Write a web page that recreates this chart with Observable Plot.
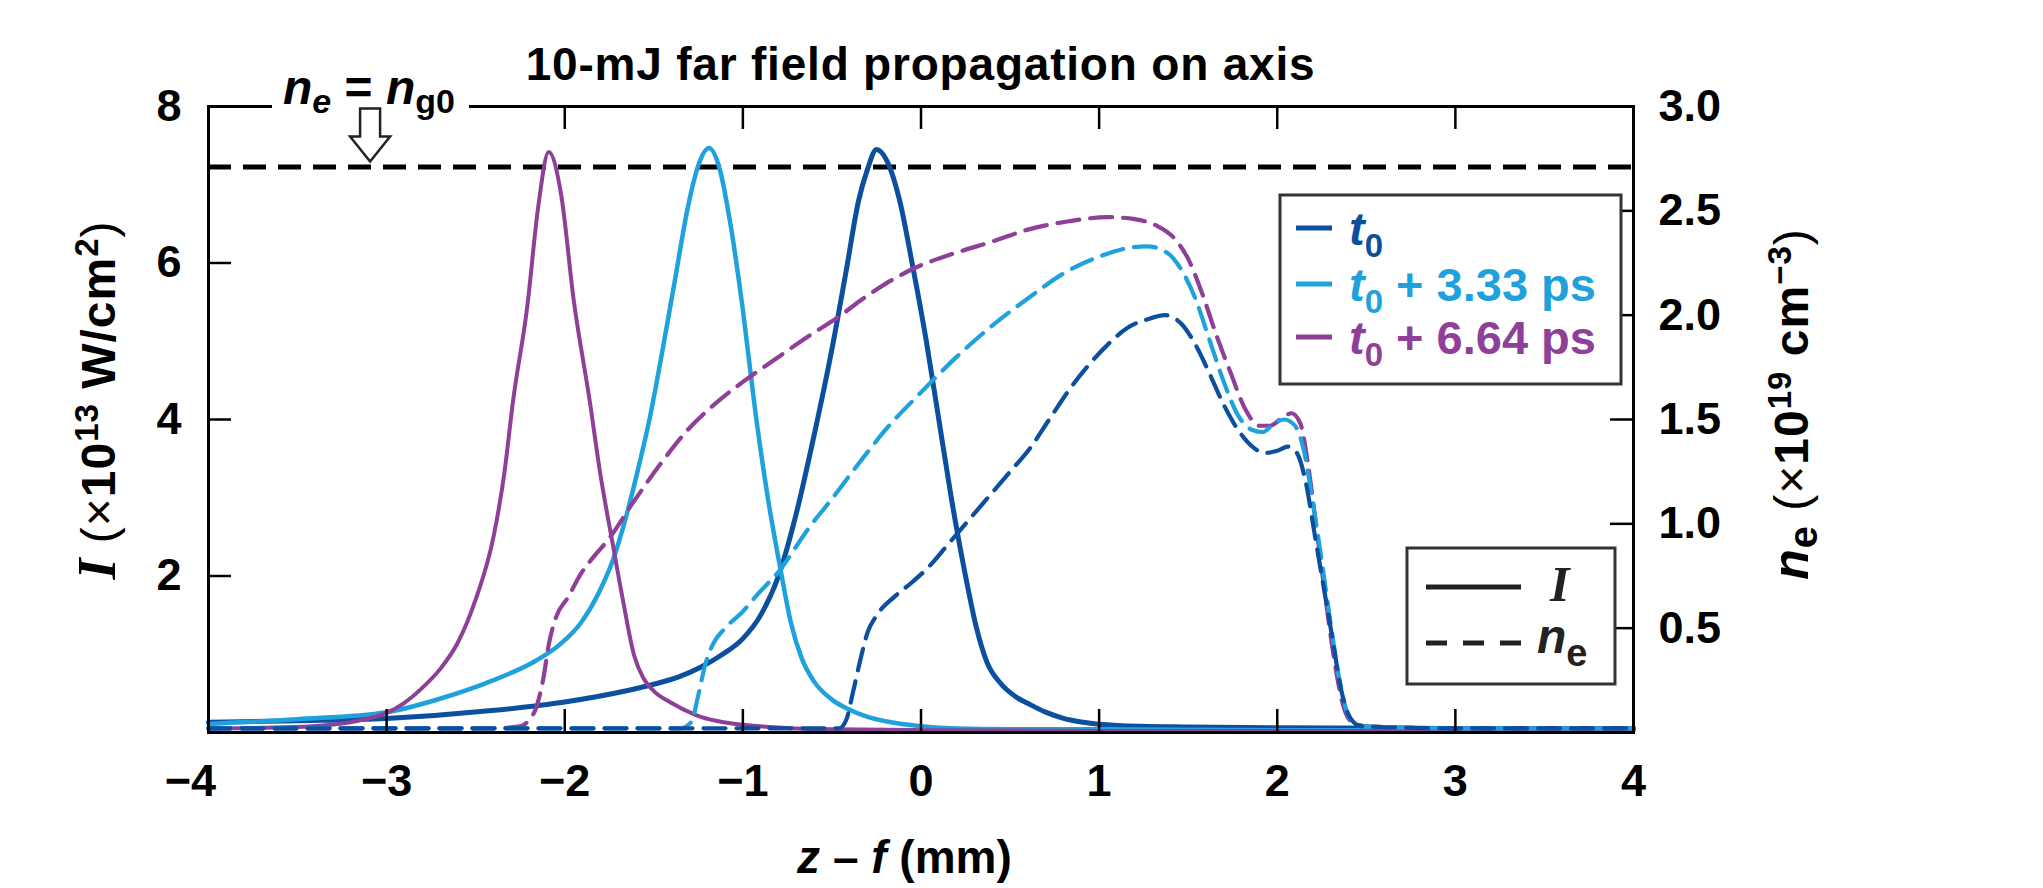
<!DOCTYPE html>
<html>
<head>
<meta charset="utf-8">
<script src="https://cdn.jsdelivr.net/npm/d3@7"></script>
<script src="https://cdn.jsdelivr.net/npm/@observablehq/plot@0.6"></script>
<style>
  html, body { margin: 0; padding: 0; background: #fff; }
  #chart { width: 2043px; height: 888px; }
</style>
</head>
<body>
<div id="chart"></div>
<script>
// ---------- data ----------
const title = "10-mJ far field propagation on axis";
const seriesNames = ["t0", "t0 + 3.33 ps", "t0 + 6.64 ps"];
const colors = ["#0b4f9e", "#1fa2dc", "#8e3f98"];

// x-axis ticks (z - f, mm), left ticks (I), right ticks (ne)
const xTicks = [-3, -2, -1, 0, 1, 2, 3, 4];
const xFirstTick = [-4];
const xInnerTicks = [-3, -2, -1, 0, 1, 2, 3];
const iTicks = [2, 4, 6, 8];
const iInnerTicks = [2, 4, 6];
const neTicks = [0.5, 1.0, 1.5, 2.0, 2.5, 3.0];
const neInnerTicks = [0.5, 1.0, 1.5, 2.0, 2.5];
const ng0 = 2.71; // n_e = n_g0 level (×10^19 cm^-3)
const arrowZ = -3.09;

// Intensity I (×10^13 W/cm²), solid lines
const zI_t0 = [-4, -3.5, -3.0, -2.41, -2.0, -1.66, -1.51, -1.36, -1.24, -1.12, -1.0, -0.9, -0.8, -0.7, -0.6, -0.5, -0.42, -0.35, -0.3, -0.25, -0.19, -0.12, -0.05, 0.03, 0.1, 0.17, 0.25, 0.31, 0.37, 0.45, 0.53, 0.61, 0.7, 0.8, 0.91, 1.1, 1.5, 2.0, 3.0, 4.0];
const I_t0  = [0.13, 0.15, 0.18, 0.28, 0.39, 0.53, 0.61, 0.71, 0.83, 0.99, 1.2, 1.5, 2.0, 2.8, 3.8, 4.9, 5.9, 6.8, 7.2, 7.45, 7.3, 6.8, 6.0, 5.0, 4.0, 3.0, 2.0, 1.35, 0.9, 0.62, 0.46, 0.36, 0.26, 0.18, 0.13, 0.09, 0.07, 0.06, 0.05, 0.05];

const zI_t333 = [-4, -3.5, -3.0, -2.66, -2.41, -2.16, -2.03, -1.91, -1.81, -1.73, -1.66, -1.59, -1.52, -1.45, -1.38, -1.31, -1.25, -1.19, -1.13, -1.07, -1.0, -0.93, -0.86, -0.79, -0.73, -0.67, -0.6, -0.5, -0.41, -0.3, -0.19, 0.0, 0.2, 0.5, 1.0, 2.0, 3.0, 4.0];
const I_t333  = [0.11, 0.17, 0.26, 0.46, 0.66, 0.92, 1.12, 1.4, 1.78, 2.2, 2.72, 3.35, 4.05, 4.9, 5.8, 6.7, 7.25, 7.47, 7.2, 6.5, 5.4, 4.1, 3.0, 2.1, 1.4, 0.95, 0.65, 0.42, 0.3, 0.2, 0.14, 0.08, 0.05, 0.04, 0.04, 0.03, 0.03, 0.03];

const zI_t664 = [-4, -3.7, -3.42, -3.16, -3.0, -2.9, -2.8, -2.7, -2.6, -2.5, -2.4, -2.34, -2.29, -2.21, -2.15, -2.09, -2.02, -1.95, -1.86, -1.8, -1.73, -1.67, -1.61, -1.56, -1.5, -1.41, -1.26, -1.0, -0.5, 0.0, 1.0, 2.0, 3.0, 4.0];
const I_t664  = [0.05, 0.06, 0.08, 0.15, 0.25, 0.38, 0.57, 0.81, 1.15, 1.7, 2.5, 3.3, 4.24, 5.45, 6.7, 7.42, 6.87, 5.53, 4.24, 3.3, 2.4, 1.65, 0.98, 0.7, 0.53, 0.39, 0.22, 0.1, 0.04, 0.03, 0.02, 0.02, 0.02, 0.02];

// Electron density ne (×10^19 cm^-3), dashed lines
const zN_t0 = [-4, -1.0, -0.46, -0.42, -0.38, -0.34, -0.3, -0.25, -0.15, -0.05, 0.05, 0.15, 0.25, 0.39, 0.5, 0.61, 0.72, 0.83, 0.94, 1.05, 1.16, 1.27, 1.37, 1.46, 1.54, 1.62, 1.7, 1.78, 1.86, 1.93, 2.0, 2.06, 2.11, 2.16, 2.21, 2.26, 2.31, 2.36, 2.41, 2.47, 3.0, 4.0];
const N_t0  = [0.02, 0.02, 0.02, 0.06, 0.2, 0.35, 0.48, 0.56, 0.65, 0.72, 0.8, 0.9, 1.0, 1.14, 1.25, 1.36, 1.5, 1.64, 1.76, 1.86, 1.94, 1.98, 2.0, 1.96, 1.86, 1.72, 1.57, 1.45, 1.37, 1.34, 1.35, 1.37, 1.34, 1.2, 0.95, 0.7, 0.45, 0.2, 0.07, 0.03, 0.02, 0.02];

const zN_t333 = [-4, -2.0, -1.35, -1.29, -1.25, -1.21, -1.17, -1.1, -1.0, -0.92, -0.8, -0.63, -0.5, -0.34, -0.2, 0.0, 0.2, 0.4, 0.6, 0.8, 1.0, 1.15, 1.27, 1.38, 1.46, 1.54, 1.62, 1.7, 1.78, 1.86, 1.92, 1.98, 2.04, 2.1, 2.15, 2.2, 2.25, 2.3, 2.35, 2.4, 2.46, 3.0, 4.0];
const N_t333  = [0.02, 0.02, 0.02, 0.05, 0.18, 0.33, 0.42, 0.5, 0.58, 0.66, 0.77, 0.98, 1.12, 1.3, 1.45, 1.63, 1.8, 1.95, 2.08, 2.2, 2.28, 2.32, 2.33, 2.3, 2.22, 2.08, 1.88, 1.68, 1.52, 1.45, 1.44, 1.48, 1.5, 1.47, 1.35, 1.1, 0.82, 0.52, 0.25, 0.08, 0.03, 0.02, 0.02];

const zN_t664 = [-4, -3.0, -2.4, -2.25, -2.2, -2.16, -2.12, -2.09, -2.05, -1.98, -1.91, -1.83, -1.76, -1.61, -1.46, -1.31, -1.15, -1.0, -0.8, -0.63, -0.45, -0.34, -0.2, -0.05, 0.2, 0.39, 0.6, 0.83, 1.05, 1.2, 1.32, 1.42, 1.5, 1.58, 1.66, 1.74, 1.82, 1.9, 1.96, 2.03, 2.08, 2.13, 2.17, 2.22, 2.27, 2.32, 2.37, 2.42, 2.5, 3.0, 4.0];
const N_t664  = [0.02, 0.02, 0.02, 0.03, 0.06, 0.12, 0.26, 0.42, 0.55, 0.65, 0.76, 0.85, 0.92, 1.11, 1.29, 1.45, 1.58, 1.68, 1.8, 1.9, 2.0, 2.07, 2.15, 2.22, 2.3, 2.35, 2.41, 2.45, 2.47, 2.46, 2.43, 2.37, 2.27, 2.1, 1.9, 1.72, 1.55, 1.47, 1.47, 1.51, 1.53, 1.48, 1.3, 0.98, 0.65, 0.35, 0.13, 0.05, 0.03, 0.02, 0.02];

// ---------- layout ----------
const W = 2043, H = 888;
const mL = 208, mR = 410, mT = 106, mB = 156;
const innerW = W - mL - mR;
const innerH = H - mT - mB;
const K = 8 / 3; // ne axis (0–3) mapped onto the I axis (0–8)
const TICK = 23;

const pts = (zs, vs, k = 1) => zs.map((z, i) => ({z, v: vs[i] * k}));
const solid = [pts(zI_t0, I_t0), pts(zI_t333, I_t333), pts(zI_t664, I_t664)];
const dashed = [pts(zN_t0, N_t0, K), pts(zN_t333, N_t333, K), pts(zN_t664, N_t664, K)];
const solidW = [5, 4.5, 4];

const fmtX = d => d < 0 ? "\u2212" + Math.abs(d) : String(d);

const plot = Plot.plot({
  width: W, height: H,
  marginLeft: mL, marginRight: mR, marginTop: mT, marginBottom: mB,
  x: {domain: [-4, 4]},
  y: {domain: [0, 8]},
  style: {fontFamily: "'Liberation Sans', Arial, Helvetica, sans-serif", fontSize: "45px", fontWeight: "bold", background: "white", overflow: "visible", color: "black"},
  marks: [
    Plot.ruleY([ng0 * K], {stroke: "black", strokeWidth: 5, strokeDasharray: "23,12"}),
    ...solid.map((d, i) => Plot.line(d, {x: "z", y: "v", stroke: colors[i], strokeWidth: solidW[i], curve: "monotone-x"})),
    ...[2, 1, 0].map(i => Plot.line(dashed[i], {x: "z", y: "v", stroke: colors[i], strokeWidth: 4.2, strokeDasharray: "22,11", curve: "monotone-x"})),
    Plot.tickX(xInnerTicks, {x: d => d, stroke: "black", strokeWidth: 2.5, insetTop: innerH - TICK}),
    Plot.tickX(xInnerTicks, {x: d => d, stroke: "black", strokeWidth: 2.5, insetBottom: innerH - TICK}),
    Plot.tickY(iInnerTicks, {y: d => d, stroke: "black", strokeWidth: 2.5, insetRight: innerW - TICK}),
    Plot.tickY(neInnerTicks, {y: d => d * K, stroke: "black", strokeWidth: 2.5, insetLeft: innerW - TICK}),
    Plot.frame({stroke: "black", strokeWidth: 3}),
    Plot.axisX(xTicks, {tickSize: 0, tickPadding: 32, tickFormat: fmtX, label: null}),
    Plot.axisX(xFirstTick, {tickSize: 0, tickPadding: 32, tickFormat: fmtX, label: null, dx: -18}),
    Plot.axisY(iTicks, {anchor: "left", tickSize: 0, tickPadding: 27, tickFormat: d => String(d), label: null}),
    Plot.axisY(neTicks.map(v => v * K), {anchor: "right", tickSize: 0, tickPadding: 25, tickFormat: d => (d / K).toFixed(1), label: null})
  ]
});

document.getElementById("chart").appendChild(plot);

// ---------- annotations ----------
const svg = d3.select(plot);
const sx = plot.scale("x"), sy = plot.scale("y");
const X = v => sx.apply(v), Y = v => sy.apply(v);
const g = svg.append("g").attr("class", "annotations")
  .attr("font-family", "'Liberation Sans', Arial, Helvetica, sans-serif")
  .attr("font-weight", "bold")
  .attr("text-anchor", "start")
  .attr("fill", "black");

function rich(parent, x, y, parts, attrs = {}) {
  const t = parent.append("text").attr("x", x).attr("y", y);
  for (const [k, v] of Object.entries(attrs)) t.attr(k, v);
  for (const p of parts) {
    const s = t.append("tspan").text(p.t);
    if (p.dy) s.attr("dy", p.dy);
    if (p.dx) s.attr("dx", p.dx);
    if (p.size) s.attr("font-size", p.size);
    if (p.style) s.attr("font-style", p.style);
    if (p.weight) s.attr("font-weight", p.weight);
    if (p.family) s.attr("font-family", p.family);
    if (p.fill) s.attr("fill", p.fill);
  }
  return t;
}
const SERIF = "'Liberation Serif', 'Times New Roman', serif";

// title
g.append("text").attr("x", X(0)).attr("y", 80).attr("text-anchor", "middle")
  .attr("font-size", 46).attr("letter-spacing", 0.8).text(title);

// n_e = n_g0 label breaking the top frame line
g.append("rect").attr("x", 272).attr("y", 80).attr("width", 197).attr("height", 52).attr("fill", "white");
rich(g, 283, 104, [
  {t: "n", style: "italic", size: 48},
  {t: "e", style: "italic", size: 34, dy: 9},
  {t: " = ", size: 48, dy: -9},
  {t: "n", style: "italic", size: 48},
  {t: "g0", size: 34, dy: 9}
], {"text-anchor": "start"});
// open arrow pointing at the dashed n_g0 line
{
  const tx = X(arrowZ), ty = Y(ng0 * K) - 5;
  const p = d3.path();
  p.moveTo(tx - 10, ty - 53); p.lineTo(tx + 10, ty - 53); p.lineTo(tx + 10, ty - 25);
  p.lineTo(tx + 20, ty - 25); p.lineTo(tx, ty); p.lineTo(tx - 20, ty - 25);
  p.lineTo(tx - 10, ty - 25); p.closePath();
  g.append("path").attr("d", p.toString()).attr("fill", "white").attr("stroke", "#222").attr("stroke-width", 2.5).attr("stroke-linejoin", "miter");
}

// left axis label
rich(g, 0, 0, [
  {t: "I", family: SERIF, style: "italic", size: 54},
  {t: " (", weight: "normal", size: 48},
  {t: "\u00d7", weight: "normal", size: 48},
  {t: "10", size: 48},
  {t: "13", size: 33, dy: -17},
  {t: " W/cm", size: 48, dy: 17},
  {t: "2", size: 33, dy: -17},
  {t: ")", weight: "normal", size: 48, dy: 17}
], {transform: "translate(115,400) rotate(-90)", "text-anchor": "middle", "letter-spacing": 1});

// right axis label
rich(g, 0, 0, [
  {t: "n", style: "italic", size: 50},
  {t: "e", size: 40, dy: 9},
  {t: " (", weight: "normal", size: 48, dy: -9},
  {t: "\u00d7", weight: "normal", size: 48},
  {t: "10", size: 48},
  {t: "19", size: 33, dy: -17},
  {t: " cm", size: 48, dy: 17},
  {t: "\u22123", size: 33, dy: -17},
  {t: ")", weight: "normal", size: 48, dy: 17}
], {transform: "translate(1808,404) rotate(-90)", "text-anchor": "middle", "letter-spacing": 1});

// x axis label
rich(g, X(-0.09), 873, [
  {t: "z", style: "italic", size: 46},
  {t: " \u2013 ", size: 46},
  {t: "f", style: "italic", size: 46},
  {t: " (mm)", size: 46}
], {"text-anchor": "middle"});

// legend 1: series colours
{
  g.append("rect").attr("x", 1280).attr("y", 195).attr("width", 341).attr("height", 189)
    .attr("fill", "white").attr("stroke", "#333").attr("stroke-width", 3);
  const rows = [228, 284, 337];
  const suffix = ["", " + 3.33 ps", " + 6.64 ps"];
  rows.forEach((ry, i) => {
    g.append("line").attr("x1", 1296).attr("x2", 1332).attr("y1", ry).attr("y2", ry)
      .attr("stroke", colors[i]).attr("stroke-width", 5);
    const parts = [
      {t: "t", style: "italic", size: 47, fill: colors[i]},
      {t: "0", size: 33, dy: 12, fill: colors[i]}
    ];
    if (suffix[i]) parts.push({t: suffix[i], size: 47, dy: -12, fill: colors[i]});
    rich(g, 1349, ry + 17, parts, {"text-anchor": "start"});
  });
}

// legend 2: line styles
{
  g.append("rect").attr("x", 1407).attr("y", 548).attr("width", 208).attr("height", 136)
    .attr("fill", "white").attr("stroke", "#333").attr("stroke-width", 3);
  g.append("line").attr("x1", 1426).attr("x2", 1521).attr("y1", 587).attr("y2", 587)
    .attr("stroke", "#222").attr("stroke-width", 5);
  rich(g, 1550, 601, [{t: "I", family: SERIF, style: "italic", size: 50, fill: "#222"}], {"text-anchor": "start"});
  g.append("line").attr("x1", 1426).attr("x2", 1521).attr("y1", 643).attr("y2", 643)
    .attr("stroke", "#222").attr("stroke-width", 5).attr("stroke-dasharray", "21,16");
  rich(g, 1537, 653, [
    {t: "n", style: "italic", size: 48, fill: "#222"},
    {t: "e", size: 38, dy: 13, fill: "#222"}
  ], {"text-anchor": "start"});
}
</script>
</body>
</html>
